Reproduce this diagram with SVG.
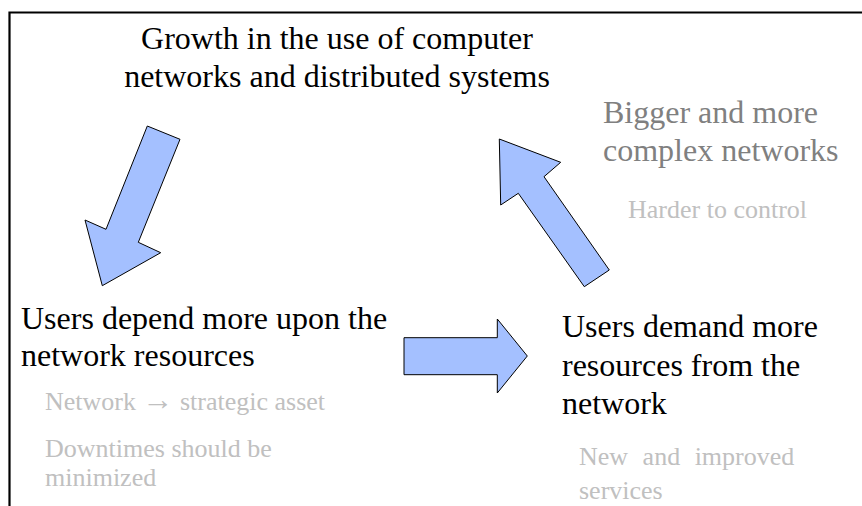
<svg xmlns="http://www.w3.org/2000/svg" width="862" height="506" viewBox="0 0 862 506">
  <style>
    .main { font-size: 32px; fill: #000000; }
    .note { font-size: 32px; fill: #808080; }
    .sub { font-size: 26px; fill: #c0c0c0; }
    .arrow { fill: #a4c0ff; stroke: #000000; stroke-width: 1; stroke-linejoin: miter; }
    .frame { fill: none; stroke: #000000; stroke-width: 2.2; }
  </style>
  <rect width="862" height="506" fill="#ffffff"/>
  <!-- open frame: top and left edges only -->
  <path class="frame" d="M9.5,506 L9.5,12.5 L862,12.5"/>

  <g font-family="'Liberation Serif', 'DejaVu Serif', serif">
    <g id="growth">
      <text class="main" x="337" y="49" text-anchor="middle">Growth in the use of computer</text>
      <text class="main" x="337" y="87" text-anchor="middle">networks and distributed systems</text>
    </g>

    <g id="bigger-networks">
      <text class="note" x="603" y="123">Bigger and more</text>
      <text class="note" x="603" y="161">complex networks</text>
      <text class="sub" x="628" y="218">Harder to control</text>
    </g>

    <g id="users-depend">
      <text class="main" x="21" y="329">Users depend more upon the</text>
      <text class="main" x="21" y="366">network resources</text>
      <text class="sub" x="45" y="410">Network <tspan font-size="31">→</tspan> strategic asset</text>
      <text class="sub" x="45" y="457">Downtimes should be</text>
      <text class="sub" x="45" y="486">minimized</text>
    </g>

    <g id="users-demand">
      <text class="main" x="562" y="337">Users demand more</text>
      <text class="main" x="562" y="376">resources from the</text>
      <text class="main" x="562" y="414">network</text>
      <text class="sub" x="579" y="465" word-spacing="8">New and improved</text>
      <text class="sub" x="579" y="499">services</text>
    </g>
  </g>

  <g id="connectors">
    <polygon class="arrow" points="147.3,126 180,139.3 138.3,242.3 160.7,252.7 102.3,285.7 85,220 106,229.3"/>
    <polygon class="arrow" points="404,337.7 497.3,337.7 497.3,319 527.3,356 497.3,393 497.3,374.7 404,374.7"/>
    <polygon class="arrow" points="609.3,270 584.3,286.7 518.3,193.3 500.7,205 499.3,139 560.7,162.3 544,176.7"/>
  </g>
</svg>
